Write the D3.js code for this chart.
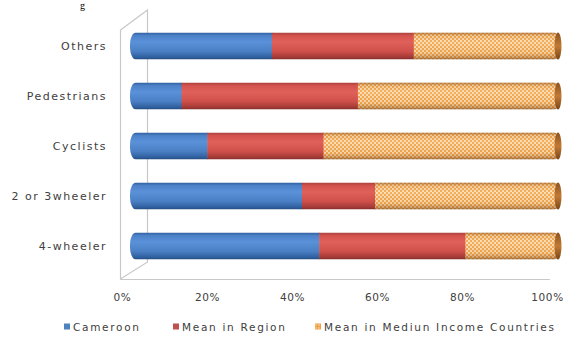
<!DOCTYPE html>
<html>
<head>
<meta charset="utf-8">
<script src="https://cdn.jsdelivr.net/npm/d3@7"></script>
<style>
  html, body { margin: 0; padding: 0; background: #ffffff; }
  svg { display: block; font-family: "DejaVu Sans", Verdana, sans-serif; }
</style>
</head>
<body>
<svg id="chart" width="569" height="340"></svg>
<script>
// ---- data ----
const categories = ["Others", "Pedestrians", "Cyclists", "2 or 3wheeler", "4-wheeler"];
const seriesNames = ["Cameroon", "Mean in Region", "Mean in Mediun Income Countries"];
const cameroon = [33, 12, 18, 40, 44];
const meanRegion = [33, 41, 27, 17, 34];
const meanMedium = [34, 47, 55, 43, 22];
const tickValues = [0, 20, 40, 60, 80, 100];
const tickLabels = ["0%", "20%", "40%", "60%", "80%", "100%"];

// ---- setup ----
const svg = d3.select("#chart");
const defs = svg.append("defs");

const xAxisScale = d3.scaleLinear().domain([0, 100]).range([122, 547]);
const xBar = d3.scaleLinear().domain([0, 100]).range([130, 560]);
const y = d3.scaleBand().domain(categories).range([21, 271]).paddingInner(0.46).paddingOuter(0.23);

// gradients
function vGrad(id, stops) {
  const g = defs.append("linearGradient").attr("id", id)
    .attr("x1", 0).attr("y1", 0).attr("x2", 0).attr("y2", 1);
  stops.forEach(s => g.append("stop").attr("offset", s[0]).attr("stop-color", s[1]));
}
vGrad("gBlue", [[0, "#2f5e9c"], [0.12, "#4d82c9"], [0.35, "#5a91d8"], [0.7, "#4a7fc4"], [0.92, "#2f5f9e"], [1, "#23497c"]]);
vGrad("gRed", [[0, "#a8403c"], [0.12, "#d4534e"], [0.35, "#e0605a"], [0.7, "#cf4f4a"], [0.92, "#a33a36"], [1, "#7e2b28"]]);
vGrad("gShade", [[0, "rgba(120,60,10,0.55)"], [0.12, "rgba(120,60,10,0.1)"], [0.35, "rgba(255,255,255,0.1)"], [0.75, "rgba(120,60,10,0.05)"], [0.92, "rgba(110,55,10,0.35)"], [1, "rgba(90,45,10,0.6)"]]);
vGrad("gCap", [[0, "#8a5220"], [0.5, "#c27a35"], [1, "#7a4519"]]);

// dotted pattern for third series
const pat = defs.append("pattern").attr("id", "pDots")
  .attr("width", 4).attr("height", 4).attr("patternUnits", "userSpaceOnUse");
pat.append("rect").attr("width", 4).attr("height", 4).attr("fill", "#f4a74d");
pat.append("circle").attr("cx", 1).attr("cy", 1).attr("r", 1.05).attr("fill", "#fde3bc");
pat.append("circle").attr("cx", 3).attr("cy", 3).attr("r", 1.05).attr("fill", "#fde3bc");

// small legend pattern
const pat2 = defs.append("pattern").attr("id", "pDotsSmall")
  .attr("width", 3).attr("height", 3).attr("patternUnits", "userSpaceOnUse");
pat2.append("rect").attr("width", 3).attr("height", 3).attr("fill", "#f0a048");
pat2.append("circle").attr("cx", 1).attr("cy", 1).attr("r", 0.8).attr("fill", "#fde0b5");

// ---- partial caption fragment at top ----
svg.append("text").attr("x", 80).attr("y", 9).attr("font-family", "Liberation Serif, serif")
  .attr("font-size", 10).attr("fill", "#000").text("g");

// ---- 3D frame ----
const frame = svg.append("g").attr("stroke", "#c8c8c8").attr("stroke-width", 1.2).attr("fill", "none");
frame.append("path").attr("d", "M120.5,30 L147.5,10 L147.5,262 L120.5,279 Z");
frame.append("line").attr("x1", 120.5).attr("x2", 550).attr("y1", 279.5).attr("y2", 279.5);

// ---- bars ----
const rows = categories.map((c, i) => {
  const vals = [cameroon[i], meanRegion[i], meanMedium[i]];
  let acc = 0;
  const segs = vals.map((v, k) => { const s = { k, x0: acc, x1: acc + v }; acc += v; return s; });
  return { c, segs, total: acc };
});

const fills = ["url(#gBlue)", "url(#gRed)", "url(#pDots)"];

rows.forEach((r, i) => {
  const y0 = y(r.c), h = y.bandwidth();
  const cid = "clip" + i;
  defs.append("clipPath").attr("id", cid)
    .append("rect").attr("x", xBar(0)).attr("y", y0)
    .attr("width", xBar(r.total) - xBar(0)).attr("height", h)
    .attr("rx", 6).attr("ry", 12);
  const g = svg.append("g").attr("clip-path", `url(#${cid})`);
  g.selectAll("rect.seg").data(r.segs).join("rect").attr("class", "seg")
    .attr("x", d => xBar(d.x0)).attr("y", y0)
    .attr("width", d => xBar(d.x1) - xBar(d.x0) + (d.k < 2 ? 0.5 : 0))
    .attr("height", h)
    .attr("fill", d => fills[d.k]);
  const s3 = r.segs[2];
  g.append("rect").attr("x", xBar(s3.x0)).attr("y", y0)
    .attr("width", xBar(s3.x1) - xBar(s3.x0)).attr("height", h)
    .attr("fill", "url(#gShade)");
  svg.append("ellipse").attr("cx", xBar(r.total) - 2).attr("cy", y0 + h / 2)
    .attr("rx", 3.5).attr("ry", h / 2).attr("fill", "url(#gCap)");
});

// ---- category labels ----
svg.append("g").selectAll("text").data(categories).join("text")
  .attr("x", 107).attr("y", d => y(d) + y.bandwidth() / 2)
  .attr("dy", "0.35em").attr("text-anchor", "end")
  .attr("font-size", 11).attr("fill", "#404040")
  .attr("letter-spacing", 1.5)
  .text(d => d);

// ---- x axis ----
const axis = d3.axisBottom(xAxisScale).tickValues(tickValues)
  .tickFormat((d, i) => tickLabels[i]).tickSize(0).tickPadding(0);
const ax = svg.append("g").attr("transform", "translate(0,294)").call(axis);
ax.select(".domain").remove();
ax.selectAll("text").attr("font-size", 10.5).attr("fill", "#404040")
  .attr("letter-spacing", 0.6).attr("font-family", "DejaVu Sans, sans-serif");

// ---- legend ----
const legendX = [64, 173, 315];
const legendFills = ["#4f81bd", "#c0504d", "url(#pDotsSmall)"];
const leg = svg.append("g").selectAll("g").data(seriesNames).join("g")
  .attr("transform", (d, i) => `translate(${legendX[i]},327)`);
leg.append("rect").attr("x", 0).attr("y", -3.5).attr("width", 6).attr("height", 6)
  .attr("fill", (d, i) => legendFills[i]);
leg.append("text").attr("x", 9).attr("y", 0).attr("dy", "0.35em")
  .attr("font-size", 10.5).attr("fill", "#404040").attr("letter-spacing", 1.7)
  .text(d => d);
</script>
</body>
</html>
